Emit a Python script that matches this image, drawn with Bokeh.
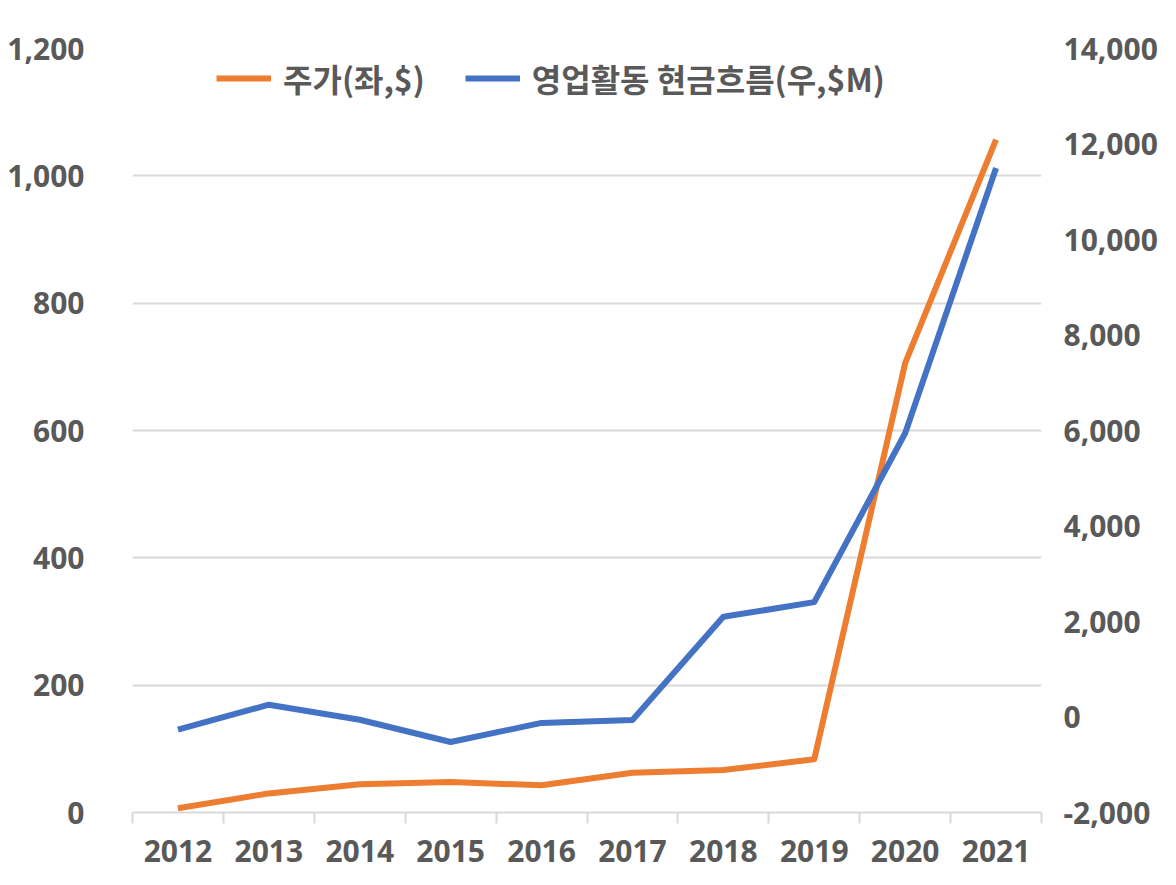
from bokeh.plotting import figure
from bokeh.models import (Range1d, LinearAxis, FixedTicker, NumeralTickFormatter,
                          Legend, LegendItem)
from bokeh.embed import file_html
from bokeh.resources import INLINE

years = ["2012", "2013", "2014", "2015", "2016", "2017", "2018", "2019", "2020", "2021"]
price = [6.8, 30.0, 44.5, 48.0, 42.7, 62.3, 66.6, 83.7, 705.7, 1056.8]
op_cash_flow = [-266, 258, -57, -524, -124, -61, 2098, 2405, 5943, 11497]
left_ticks = [0, 200, 400, 600, 800, 1000, 1200]
right_ticks = [-2000, 0, 2000, 4000, 6000, 8000, 10000, 12000, 14000]
label_price = "주가(좌,$)"
label_cf = "영업활동 현금흐름(우,$M)"

xs = list(range(len(years)))
TXT = "#595959"
GRID = "#d9d9d9"
TICK_FONT = "Noto Sans"
LEG_FONT = "Noto Sans CJK KR"

p = figure(width=1160, height=869, output_backend="svg", toolbar_location=None,
           x_range=Range1d(-0.5, len(years) - 0.5), y_range=Range1d(0, 1200),
           min_border_left=132, min_border_top=48, min_border_right=119, min_border_bottom=57)
p.outline_line_color = None
p.background_fill_color = "white"
p.border_fill_color = "white"

p.extra_y_ranges = {"cf": Range1d(-2000, 14000)}

# x axis
xa = p.xaxis[0]
xa.ticker = FixedTicker(ticks=xs, minor_ticks=[i - 0.5 for i in range(len(years) + 1)])
xa.major_label_overrides = {i: y for i, y in enumerate(years)}
xa.major_tick_out = 0
xa.major_tick_in = 0
xa.minor_tick_out = 11
xa.minor_tick_in = 0
xa.minor_tick_line_color = GRID
xa.minor_tick_line_width = 2
xa.axis_line_color = GRID
xa.axis_line_width = 2
xa.major_label_standoff = 16
xa.major_label_text_font = TICK_FONT
xa.major_label_text_font_style = "bold"
xa.major_label_text_font_size = "30px"
xa.major_label_text_color = TXT

# left axis
ya = p.yaxis[0]
ya.ticker = FixedTicker(ticks=left_ticks)
ya.formatter = NumeralTickFormatter(format="0,0")
ya.axis_line_color = None
ya.major_tick_line_color = None
ya.minor_tick_line_color = None
ya.major_label_standoff = 42
ya.major_label_text_font = TICK_FONT
ya.major_label_text_font_style = "bold"
ya.major_label_text_font_size = "30px"
ya.major_label_text_color = TXT

# right axis
ra = LinearAxis(y_range_name="cf", ticker=FixedTicker(ticks=right_ticks),
                formatter=NumeralTickFormatter(format="0,0"))
ra.axis_line_color = None
ra.major_tick_line_color = None
ra.minor_tick_line_color = None
ra.major_label_standoff = 16
ra.major_label_text_font = TICK_FONT
ra.major_label_text_font_style = "bold"
ra.major_label_text_font_size = "30px"
ra.major_label_text_color = TXT
p.add_layout(ra, "right")

p.xgrid.grid_line_color = None
p.ygrid.grid_line_color = GRID
p.ygrid.grid_line_width = 2

r1 = p.line(xs, price, line_color="#ED7D31", line_width=6, line_join="round")
r2 = p.line(xs, op_cash_flow, y_range_name="cf", line_color="#4472C4", line_width=6, line_join="round")

legend = Legend(items=[LegendItem(label=label_price, renderers=[r1]),
                       LegendItem(label=label_cf, renderers=[r2])],
                orientation="horizontal", location=(84, 711))
legend.label_text_font = LEG_FONT
legend.label_text_font_style = "bold"
legend.label_text_font_size = "32px"
legend.label_text_color = TXT
legend.glyph_width = 55
legend.glyph_height = 30
legend.label_standoff = 12
legend.spacing = 40
legend.padding = 0
legend.margin = 0
legend.border_line_color = None
legend.background_fill_alpha = 0
p.add_layout(legend, "center")

open("out.html", "w").write(file_html(p, INLINE))
